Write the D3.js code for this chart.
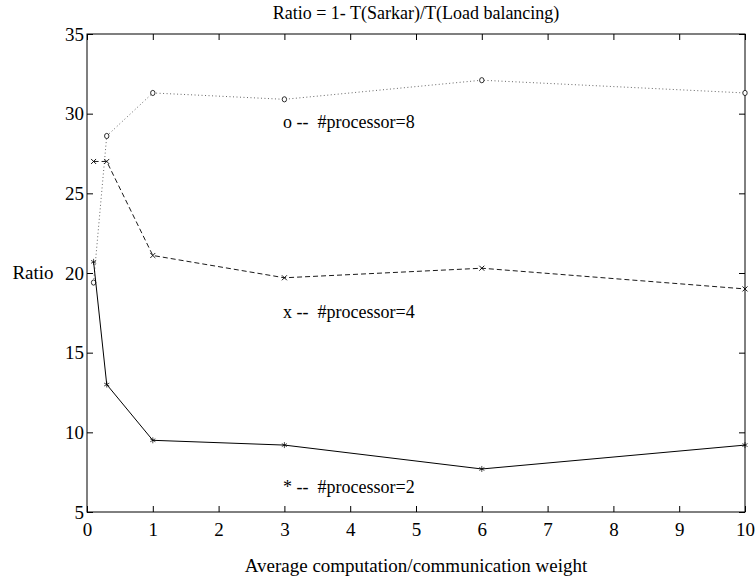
<!DOCTYPE html>
<html>
<head>
<meta charset="utf-8">
<script src="https://cdn.jsdelivr.net/npm/d3@7"></script>
<style>
  body { margin: 0; background: #fff; }
</style>
</head>
<body>
<div id="chart"></div>
<script>
// Data
var weights = [0.1, 0.3, 1, 3, 6, 10];
var proc8 = [19.4, 28.6, 31.3, 30.9, 32.1, 31.3];
var proc4 = [27.0, 27.0, 21.1, 19.7, 20.3, 19.0];
var proc2 = [20.7, 13.0, 9.5, 9.2, 7.7, 9.2];
var xTicks = [0, 1, 2, 3, 4, 5, 6, 7, 8, 9, 10];
var yTicks = [5, 10, 15, 20, 25, 30, 35];

var width = 756, height = 579;
var plotL = 87, plotR = 745, plotT = 34, plotB = 512;
var serif = "'Liberation Serif', 'Times New Roman', serif";

var svg = d3.select("#chart").append("svg")
  .attr("width", width)
  .attr("height", height);

var x = d3.scaleLinear().domain([0, 10]).range([plotL, plotR]);
var y = d3.scaleLinear().domain([5, 35]).range([plotB, plotT]);

// Box with inward ticks on all four sides
var tick = 6;
svg.append("g").attr("transform", "translate(0," + plotB + ")")
  .call(d3.axisBottom(x).tickValues(xTicks).tickSizeInner(-tick).tickSizeOuter(0).tickPadding(11))
  .call(function(g) { g.selectAll("text").attr("dy", "0.71em"); });
svg.append("g").attr("transform", "translate(0," + plotT + ")")
  .call(d3.axisTop(x).tickValues(xTicks).tickSizeInner(-tick).tickSizeOuter(0).tickFormat(""));
svg.append("g").attr("transform", "translate(" + plotL + ",0)")
  .call(d3.axisLeft(y).tickValues(yTicks).tickSizeInner(-tick).tickSizeOuter(0).tickPadding(3));
svg.append("g").attr("transform", "translate(" + plotR + ",0)")
  .call(d3.axisRight(y).tickValues(yTicks).tickSizeInner(-tick).tickSizeOuter(0).tickFormat(""));
svg.selectAll(".domain").remove();
svg.selectAll(".tick line").attr("stroke", "#000");
svg.selectAll(".tick text")
  .attr("fill", "#000")
  .style("font-family", serif)
  .style("font-size", "19px");

svg.append("rect")
  .attr("x", plotL).attr("y", plotT)
  .attr("width", plotR - plotL).attr("height", plotB - plotT)
  .attr("fill", "none").attr("stroke", "#000").attr("stroke-width", 1);

var line = d3.line()
  .x(function(d) { return x(d[0]); })
  .y(function(d) { return y(d[1]); });

var series = [
  { vals: proc8, dash: "1,2.5", color: "#555", width: 0.9, mark: "o" },
  { vals: proc4, dash: "5,3", color: "#000", width: 0.9, mark: "x" },
  { vals: proc2, dash: null, color: "#000", width: 1, mark: "*" }
];

series.forEach(function(s) {
  var pts = d3.zip(weights, s.vals);
  svg.append("path")
    .datum(pts)
    .attr("d", line)
    .attr("fill", "none")
    .attr("stroke", s.color)
    .attr("stroke-width", s.width)
    .attr("stroke-dasharray", s.dash);

  var m = svg.append("g").selectAll("g")
    .data(pts).enter().append("g")
    .attr("transform", function(d) { return "translate(" + x(d[0]) + "," + y(d[1]) + ")"; });
  if (s.mark == "o") {
    m.append("ellipse").attr("rx", 2.2).attr("ry", 2.6)
      .attr("fill", "#fff").attr("stroke", "#000").attr("stroke-width", 0.8);
  } else if (s.mark == "x") {
    m.append("path").attr("d", "M-2.5,-2.5L2.5,2.5M-2.5,2.5L2.5,-2.5")
      .attr("stroke", "#000").attr("stroke-width", 0.9);
  } else {
    m.append("path").attr("d", "M0,-3L0,3M-2.6,-1.5L2.6,1.5M-2.6,1.5L2.6,-1.5")
      .attr("stroke", "#000").attr("stroke-width", 0.7);
  }
});

// Series labels placed in data coordinates
var labels = [
  { text: "o --  #processor=8", at: [2.98, 29.1] },
  { text: "x --  #processor=4", at: [2.98, 17.2] },
  { text: "* --  #processor=2", at: [2.98, 6.2] }
];
svg.selectAll(".lab").data(labels).enter().append("text")
  .attr("class", "lab")
  .attr("x", function(d) { return x(d.at[0]); })
  .attr("y", function(d) { return y(d.at[1]); })
  .attr("xml:space", "preserve")
  .style("white-space", "pre")
  .style("font-family", serif)
  .style("font-size", "18px")
  .text(function(d) { return d.text; });

svg.append("text")
  .attr("x", (plotL + plotR) / 2).attr("y", 19)
  .attr("text-anchor", "middle")
  .style("font-family", serif)
  .style("font-size", "18px")
  .text("Ratio = 1- T(Sarkar)/T(Load balancing)");

svg.append("text")
  .attr("x", (plotL + plotR) / 2).attr("y", 572)
  .attr("text-anchor", "middle")
  .style("font-family", serif)
  .style("font-size", "19px")
  .text("Average computation/communication weight");

svg.append("text")
  .attr("x", 33).attr("y", (plotT + plotB) / 2 + 6)
  .attr("text-anchor", "middle")
  .style("font-family", serif)
  .style("font-size", "19px")
  .text("Ratio");
</script>
</body>
</html>
